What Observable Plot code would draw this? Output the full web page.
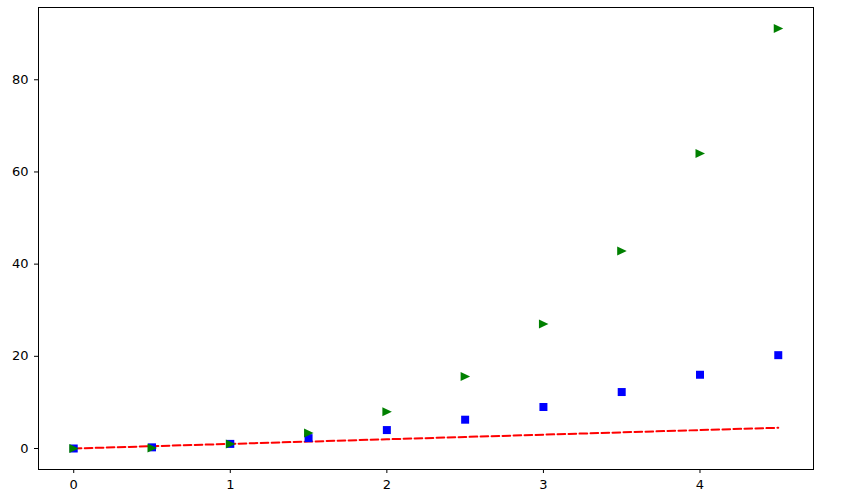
<!DOCTYPE html>
<html>
<head>
<meta charset="utf-8">
<script src="https://cdn.jsdelivr.net/npm/d3@7"></script>
<script src="https://cdn.jsdelivr.net/npm/@observablehq/plot@0.6"></script>
<style>
  body { margin: 0; background: #fff; }
</style>
</head>
<body>
<div id="chart"></div>
<script>
const t = [0, 0.5, 1, 1.5, 2, 2.5, 3, 3.5, 4, 4.5];
const linear = [0, 0.5, 1, 1.5, 2, 2.5, 3, 3.5, 4, 4.5];
const squares = [0, 0.25, 1, 2.25, 4, 6.25, 9, 12.25, 16, 20.25];
const cubes = [0, 0.125, 1, 3.375, 8, 15.625, 27, 42.875, 64, 91.125];
const xTicks = [0, 1, 2, 3, 4];
const yTicks = [0, 20, 40, 60, 80];

const lineData = t.map((x, i) => ({x, y: linear[i]}));
const sqData = t.map((x, i) => ({x, y: squares[i]}));
const cuData = t.map((x, i) => ({x, y: cubes[i]}));

const triRight = {
  draw(ctx, size) {
    ctx.moveTo(-4.5, -4.5);
    ctx.lineTo(5, 0);
    ctx.lineTo(-4.5, 4.5);
    ctx.closePath();
  }
};
const squareSym = {
  draw(ctx, size) {
    ctx.rect(-4, -4, 8, 8);
  }
};

const chart = Plot.plot({
  width: 851,
  height: 495,
  marginLeft: 38,
  marginRight: 38,
  marginTop: 7,
  marginBottom: 26,
  style: {fontSize: "13px", fontFamily: "DejaVu Sans, sans-serif", color: "#000", background: "#fff"},
  x: {domain: [-0.225, 4.725], label: null},
  y: {domain: [-4.556, 95.681], label: null},
  marks: [
    Plot.line(lineData, {x: "x", y: "y", stroke: "red", strokeWidth: 2, strokeDasharray: "7.7,3.3"}),
    Plot.dot(sqData, {x: "x", y: "y", symbol: squareSym, fill: "blue", stroke: "none", r: 4}),
    Plot.dot(cuData, {x: "x", y: "y", symbol: triRight, fill: "green", stroke: "none", r: 4}),
    Plot.axisX({ticks: xTicks, tickFormat: d3.format("d"), tickSize: 4, tickPadding: 6, fontSize: 13, fontFamily: "DejaVu Sans", fill: "#000", label: null}),
    Plot.axisY({ticks: yTicks, tickFormat: d3.format("d"), tickSize: 4, tickPadding: 6, fontSize: 13, fontFamily: "DejaVu Sans", fill: "#000", label: null}),
    Plot.frame({stroke: "#000", strokeWidth: 1})
  ]
});
document.getElementById("chart").appendChild(chart);
</script>
</body>
</html>
